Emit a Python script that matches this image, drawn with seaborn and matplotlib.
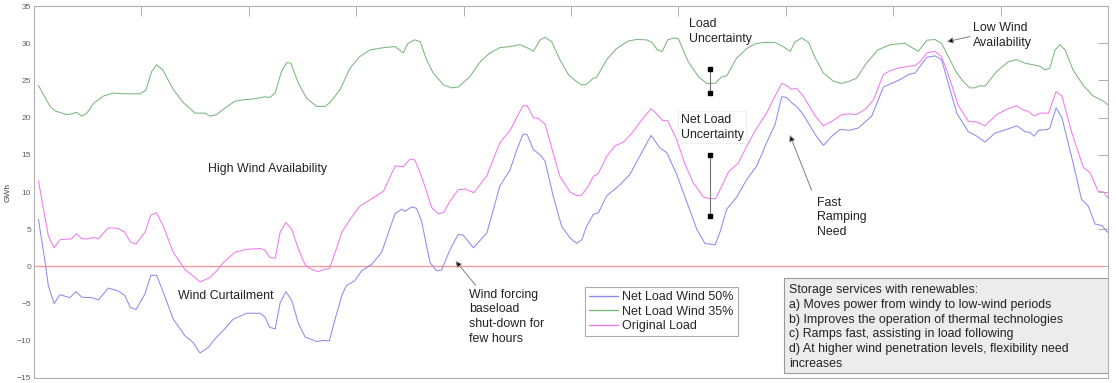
import pandas as pd
import seaborn as sns
import matplotlib.pyplot as plt
from matplotlib.patches import Rectangle

# Hourly net load values (hour of period, GWh)
wind50_hours = [1.0, 2.5, 3.2, 4.5, 5.8, 8.0, 9.4, 10.7, 12.9, 14.4, 16.6, 18.8, 20.3, 21.5, 22.8, 24.8,
                26.1, 27.4, 28.9, 31.1, 33.7, 35.5, 37.1, 39.0, 40.8, 42.3, 44.5, 47.5, 50.5, 51.6, 52.7,
                53.9, 55.0, 56.3, 57.6, 59.1, 60.6, 63.2, 64.6, 66.0, 67.3, 68.8, 69.8, 71.7, 73.2, 75.5,
                77.7, 79.2, 80.7, 82.2, 82.9, 84.4, 85.5, 86.6, 88.5, 90.0, 91.1, 93.0, 94.8, 95.9, 98.2,
                101.2, 104.1, 106.4, 107.9, 109.3, 110.2, 111.6, 113.1, 114.2, 116.0, 117.9, 119.8, 121.3,
                122.4, 123.5, 125.0, 126.1, 128.0, 131.0, 133.2, 135.8, 137.9, 139.9, 141.4, 143.6, 145.9,
                148.1, 149.9, 152.2, 153.3, 154.8, 157.0, 159.3, 161.5, 163.7, 165.6, 167.1, 168.2, 169.3,
                170.4, 171.9, 174.6, 176.4, 178.3, 180.1, 182.3, 184.2, 187.2, 189.8, 191.6, 193.5, 195.4,
                196.9, 198.0, 199.5, 201.3, 202.8, 204.3, 206.2, 208.8, 210.7, 212.5, 214.7, 217.3, 219.6,
                221.5, 222.6, 223.5, 224.5, 226.4, 227.0, 228.4, 229.7, 232.2, 234.1, 235.6, 237.1, 238.6,
                240.0]
wind50_gwh = [6.3, 0.5, -2.6, -5.0, -3.8, -4.2, -3.4, -4.15, -4.2, -4.5, -2.9, -3.3, -3.9, -5.5, -5.8, -3.7,
              -1.2, -1.2, -3.5, -7.05, -9.3, -10.2, -11.65, -10.85, -9.5, -8.6, -7.1, -6.3, -6.3, -6.8, -8.2,
              -8.4, -4.9, -3.4, -4.6, -7.7, -9.5, -10.1, -9.95, -10.0, -7.05, -3.9, -2.6, -1.9, -0.6, 0.3,
              1.9, 4.55, 7.1, 7.7, 7.4, 8.0, 7.8, 6.1, 0.5, -0.6, -0.45, 2.3, 4.3, 4.2, 2.5,
              4.5, 10.8, 13.0, 15.7, 17.8, 17.7, 15.7, 15.0, 14.15, 9.5, 5.4, 3.8, 3.1,
              3.6, 5.4, 7.0, 7.2, 9.5, 11.0, 12.4, 15.3, 17.6, 15.9, 15.3, 12.4, 8.6,
              5.0, 3.1, 2.9, 4.6, 7.7, 9.3, 11.7, 13.5, 16.6, 19.1, 22.8, 22.7, 22.0,
              21.5, 20.4, 17.7, 16.25, 17.5, 18.4, 18.3, 18.6, 20.2, 24.1, 24.6, 25.1, 25.8,
              26.0, 26.9, 28.1, 28.3, 27.8, 24.6, 20.6, 18.1, 17.5, 16.7, 17.9, 18.4, 18.9,
              18.1, 18.0, 17.5, 18.3, 18.4, 18.6, 21.3, 20.0, 13.9, 9.0, 8.1, 5.7, 5.5,
              4.55]

wind35_hours = [1.0, 3.6, 4.7, 7.3, 8.4, 9.5, 10.7, 11.8, 13.3, 15.5, 17.7, 20.0, 23.7, 25.0, 26.3, 27.4,
                28.8, 31.1, 33.4, 36.0, 38.2, 39.3, 40.8, 42.7, 44.9, 46.8, 49.0, 51.6, 52.7, 53.9, 55.3,
                56.5, 57.4, 59.1, 60.9, 63.2, 65.0, 66.1, 68.4, 70.6, 72.8, 75.1, 78.1, 80.7, 82.5, 83.6,
                85.1, 86.3, 87.7, 89.2, 91.5, 93.3, 94.8, 97.4, 99.7, 101.9, 104.1, 106.4, 108.6, 110.5,
                111.6, 113.1, 114.2, 115.7, 117.5, 119.4, 120.9, 122.4, 123.5, 125.0, 125.7, 128.0, 130.2,
                132.8, 134.7, 136.9, 138.1, 139.3, 140.4, 141.6, 142.9, 144.0, 146.2, 148.5, 150.3, 152.2,
                153.7, 154.8, 157.0, 159.3, 161.1, 163.0, 165.6, 167.4, 169.0, 170.1, 171.6, 173.1, 174.6,
                176.4, 178.6, 180.5, 182.3, 183.8, 186.0, 188.6, 191.3, 194.6, 196.5, 197.6, 199.5, 201.3,
                202.8, 204.3, 206.2, 207.6, 209.1, 210.2, 211.4, 212.5, 215.1, 217.7, 219.6, 221.5, 223.3,
                224.8, 225.9, 227.0, 228.2, 229.3, 230.4, 232.2, 234.5, 236.7, 239.0, 240.0]
wind35_gwh = [24.3, 21.5, 20.9, 20.4, 20.5, 20.7, 20.2, 20.6, 21.9, 22.9, 23.3, 23.2, 23.2, 23.7, 26.2, 27.1,
              26.4, 23.8, 22.0, 20.6, 20.6, 20.2, 20.4, 21.3, 22.2, 22.4, 22.5, 22.8, 22.7, 23.3, 26.2,
              27.4, 27.3, 24.6, 22.6, 21.5, 21.5, 22.0, 23.75, 26.65, 28.2, 29.1, 29.4, 29.55, 28.7, 30.0,
              30.45, 30.2, 27.8, 26.0, 24.4, 24.0, 24.1, 25.5, 27.5, 28.7, 29.4, 29.55, 29.8, 29.3,
              28.9, 30.45, 30.8, 30.2, 27.8, 25.8, 25.0, 24.4, 24.5, 25.3, 25.4, 27.8, 29.3,
              30.3, 30.5, 30.45, 30.1, 29.1, 28.9, 30.45, 30.7, 30.6, 27.5, 25.5, 24.6, 24.6,
              25.5, 25.6, 28.0, 29.3, 29.9, 30.1, 30.1, 29.55, 28.9, 30.2, 30.7, 30.1, 28.0,
              26.0, 24.9, 24.6, 24.9, 25.3, 27.3, 29.1, 29.8, 30.0, 29.3, 28.9, 30.4, 30.5,
              30.0, 28.2, 26.0, 24.9, 24.0, 24.0, 24.3, 24.2, 26.2, 27.5, 27.8, 27.3, 27.1,
              26.9, 26.4, 26.65, 29.1, 29.8, 29.1, 26.4, 24.3, 22.9, 22.2, 21.7]

load_hours = [1.0, 3.2, 4.5, 5.8, 8.4, 9.5, 10.7, 11.9, 13.3, 14.4, 16.6, 18.8, 20.3, 21.5, 22.8, 24.8,
              26.1, 27.4, 28.9, 31.1, 33.7, 35.5, 37.1, 39.3, 40.8, 42.3, 44.9, 47.5, 50.5, 51.6, 52.7,
              53.9, 55.0, 56.3, 57.6, 59.1, 60.6, 61.7, 63.5, 64.6, 66.0, 67.3, 68.8, 70.6, 72.8, 75.5,
              78.1, 80.7, 82.5, 84.0, 85.1, 86.6, 88.9, 90.3, 91.5, 93.0, 94.8, 96.3, 98.3, 101.2,
              104.1, 106.4, 108.2, 109.3, 110.2, 111.6, 112.7, 114.2, 117.5, 119.8, 121.3, 122.4, 123.9,
              125.0, 126.1, 128.0, 129.8, 131.7, 133.6, 135.8, 137.9, 139.3, 140.5, 141.6, 143.6, 145.5,
              147.3, 149.6, 151.1, 152.3, 153.7, 155.2, 157.4, 159.3, 161.5, 163.7, 165.6, 167.1, 168.2,
              169.3, 170.4, 171.9, 174.6, 176.4, 178.3, 180.5, 182.3, 183.8, 185.7, 187.6, 189.8, 191.3,
              193.1, 195.4, 196.9, 198.0, 199.5, 201.3, 202.8, 204.3, 206.5, 208.8, 210.7, 212.5, 215.1,
              217.3, 219.6, 221.1, 222.2, 223.5, 224.8, 226.7, 228.4, 229.7, 231.9, 234.5, 236.0, 237.8,
              239.0, 240.0]
load_gwh = [11.5, 4.1, 2.5, 3.6, 3.7, 4.4, 3.7, 3.7, 3.9, 3.7, 5.2, 5.1, 4.6, 3.3, 3.0, 4.6,
            6.9, 7.2, 5.4, 1.9, -0.4, -1.25, -2.1, -1.5, -0.6, 0.5, 1.9, 2.3, 2.4, 2.2, 1.2,
            1.1, 4.6, 5.9, 5.0, 2.3, 0.2, -0.3, -0.7, -0.45, -0.3, 1.9, 4.6, 6.3, 8.1, 9.1,
            10.1, 13.5, 13.4, 14.4, 14.3, 12.1, 7.9, 7.1, 7.2, 8.8, 10.3, 10.4, 9.9, 12.2,
            16.6, 18.3, 20.4, 21.6, 21.6, 20.0, 19.9, 19.1, 12.1, 10.0, 9.5, 9.6, 10.8,
            12.1, 12.5, 14.8, 16.2, 16.7, 17.9, 19.7, 21.2, 20.4, 19.6, 19.6, 17.05, 13.7,
            11.25, 9.3, 9.1, 9.1, 10.8, 12.7, 13.9, 16.2, 18.6, 20.6, 22.9, 24.6, 24.3,
            23.8, 23.95, 22.9, 20.2, 18.9, 19.5, 20.4, 20.5, 20.4, 21.1, 22.4, 25.8, 26.3,
            26.65, 26.9, 27.0, 27.5, 28.7, 28.9, 28.2, 25.8, 21.7, 19.5, 19.4, 18.9, 20.4,
            21.1, 21.6, 21.0, 20.85, 20.2, 20.6, 20.6, 23.5, 22.9, 18.0, 13.3, 12.6, 10.1,
            10.0, 9.2]

series_names = ['Net Load Wind 50%', 'Net Load Wind 35%', 'Original Load']
series_colors = ['#8c8cf0', '#7ab87a', '#f07af0']

# Uncertainty markers (hour, low, high)
load_unc = (151.1, 23.35, 26.5)
netload_unc = (151.1, 6.8, 15.0)

storage_text = ('Storage services with renewables:\n'
                'a) Moves power from windy to low-wind periods\n'
                'b) Improves the operation of thermal technologies\n'
                'c) Ramps fast, assisting in load following\n'
                'd) At higher wind penetration levels, flexibility need\n'
                'increases')


def plot_net_load():
    """
    Draws the net load chart with annotations and saves it as out.png.
    """
    # Build a long dataframe so seaborn can colour each series
    frames = []
    for name, hrs, vals in zip(series_names,
                               [wind50_hours, wind35_hours, load_hours],
                               [wind50_gwh, wind35_gwh, load_gwh]):
        frames.append(pd.DataFrame({'hour': hrs, 'gwh': vals, 'series': name}))
    df = pd.concat(frames, ignore_index=True)

    sns.set_style('white')
    plt.rcParams['font.family'] = ['Liberation Sans', 'DejaVu Sans']

    fig = plt.figure(figsize=(11.16, 3.83), dpi=100)
    ax = fig.add_axes([34 / 1116, 5 / 383, 1074 / 1116, 372 / 383])

    # zero reference line
    ax.hlines(0, 0, 239, color='#f29a9a', lw=1.0, zorder=1)

    sns.lineplot(data=df, x='hour', y='gwh', hue='series', hue_order=series_names,
                 palette=series_colors, estimator=None, sort=False, lw=0.75, ax=ax, zorder=2)

    # Axis formatting (MATLAB-like box with inward ticks)
    ax.set_xlim(0, 240)
    ax.set_ylim(-15, 35)
    ax.set_xticks(range(24, 240, 24))
    ax.set_xticklabels([])
    ax.set_yticks(range(-15, 36, 5))
    ax.tick_params(direction='in', length=7, width=0.6, colors='#a0a0a0',
                   top=True, right=True, labelsize=6, pad=2)
    ax.tick_params(axis='y', labelcolor='#606060')
    for sp in ax.spines.values():
        sp.set_color('#b0b0b0')
        sp.set_linewidth(0.8)
    ax.set_xlabel('')
    ax.set_ylabel('GWh', fontsize=6, color='#404040')
    ax.yaxis.set_label_coords(-0.0205, 0.5)

    # Legend
    handles, labels = ax.get_legend_handles_labels()
    leg = ax.legend(handles, labels, loc='upper left', bbox_to_anchor=(0.513, 0.2454),
                    borderaxespad=0, fontsize=9, handlelength=2.3, labelspacing=0.2,
                    borderpad=0.35, handletextpad=0.3, frameon=True, fancybox=False)
    leg.get_frame().set_edgecolor('#999999')
    leg.get_frame().set_linewidth(0.8)
    for line in leg.get_lines():
        line.set_linewidth(1.0)

    # Text annotations
    txt = dict(fontsize=8.9, color='#222222')
    ax.text(38.9, 13.05, 'High Wind Availability', va='center', ha='left', **txt)
    ax.text(32.2, -4.0, 'Wind Curtailment', va='center', ha='left', **txt)
    ax.text(146.4, 31.6, 'Load\nUncertainty', va='center', ha='left', linespacing=1.3, **txt)
    ax.text(144.5, 18.7, 'Net Load\nUncertainty', va='center', ha='left', linespacing=1.3,
            bbox=dict(facecolor='white', edgecolor='#eeeeee', pad=2, lw=0.6), zorder=3, **txt)

    arrow = dict(arrowstyle='-|>', fc='black', ec='#808080', lw=0.7, mutation_scale=9,
                 shrinkA=0, shrinkB=0)
    ax.annotate('Wind forcing\nbaseload\nshut-down for\nfew hours', xy=(94.2, 0.73),
                xytext=(97.3, -6.76), va='center', ha='left', linespacing=1.3,
                arrowprops=dict(arrow, relpos=(0.12, 1.0)), **txt)
    ax.annotate('Fast\nRamping\nNeed', xy=(168.9, 17.66), xytext=(174.9, 6.6),
                va='center', ha='left', linespacing=1.3,
                arrowprops=dict(arrow, relpos=(-0.1, 1.15)), **txt)
    ax.annotate('Low Wind\nAvailability', xy=(204.0, 30.2), xytext=(209.9, 31.0),
                va='center', ha='left', linespacing=1.3,
                arrowprops=dict(arrow, relpos=(0.0, 0.5)), **txt)

    # Uncertainty ranges
    for h, lo, hi in [load_unc, netload_unc]:
        ax.plot([h, h], [lo, hi], color='#777777', lw=0.8, marker='s', ms=3.5,
                mfc='black', mec='black', zorder=4)

    # Storage services box
    ax.add_patch(Rectangle((0.6986, 0.0142), 0.3011, 0.2538, transform=ax.transAxes,
                           facecolor='#ececec', edgecolor='#9a9a9a', lw=0.8, zorder=5))
    ax.text(0.7033, 0.252, storage_text, transform=ax.transAxes, va='top', ha='left',
            linespacing=1.3, zorder=6, **txt)

    fig.savefig('out.png', dpi=100)


plot_net_load()
